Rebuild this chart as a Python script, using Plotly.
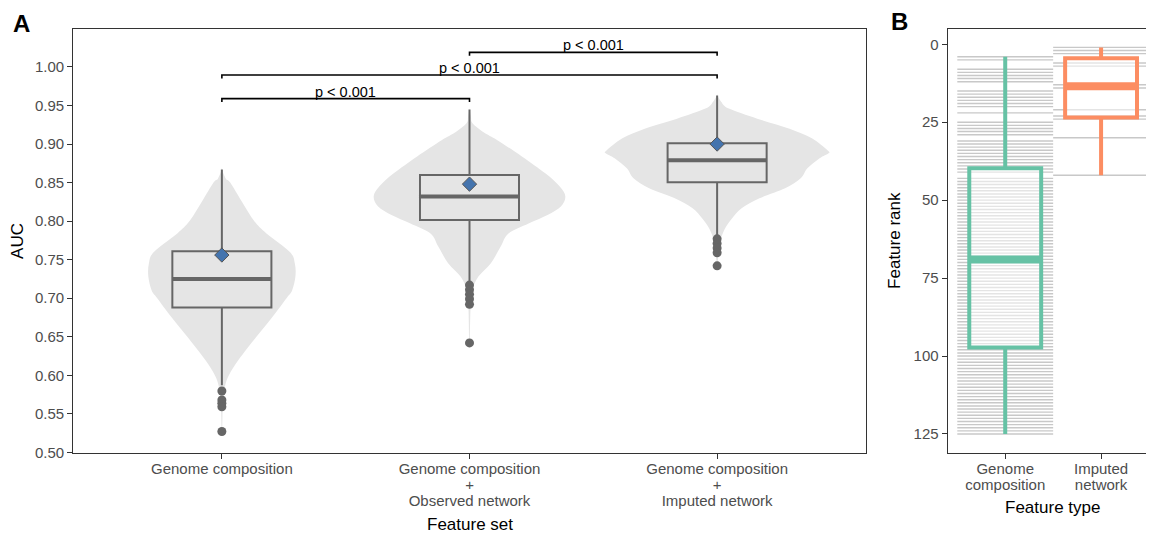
import numpy as np
import plotly.graph_objects as go

# The page has an 8px body margin; lay the figure out in reference pixels shifted by it.
OFF = 8
W, H = 1154 - OFF, 537
HR = 537 - OFF  # height actually available for drawing on the page
FONT = "Liberation Sans, Arial, Helvetica, sans-serif"
TICK_SIZE = 15


def px_x(p):
    return (p - OFF) / W


def px_y(p):
    return 1 - (p - OFF) / HR


def big(s, size=TICK_SIZE):
    return "<br>".join(f'<span style="font-size:{size}px">{part}</span>' for part in s.split("<br>"))


# ---------------- Panel A data ----------------
feature_sets = ["Genome composition",
                "Genome composition<br>+<br>Observed network",
                "Genome composition<br>+<br>Imputed network"]
set_pos = [1, 2, 3]
auc_ticks = [0.50, 0.55, 0.60, 0.65, 0.70, 0.75, 0.80, 0.85, 0.90, 0.95, 1.00]

box_q1 = [0.688, 0.8015, 0.8504]
box_median = [0.725, 0.832, 0.879]
box_q3 = [0.761, 0.860, 0.901]
box_lower = [0.587, 0.721, 0.782]
box_upper = [0.867, 0.945, 0.963]
auc_mean = [0.756, 0.848, 0.900]

outliers_gc = [0.5795, 0.568, 0.5636, 0.559, 0.527]
outliers_obs = [0.717, 0.711, 0.705, 0.699, 0.692, 0.642]
outliers_imp = [0.777, 0.771, 0.765, 0.759, 0.742]

# violin outlines (AUC grid, relative density; widest violin = 1)
violin_gc_auc = [0.527, 0.545, 0.565, 0.585, 0.600, 0.620, 0.650, 0.675, 0.700, 0.710,
                 0.728, 0.745, 0.760, 0.784, 0.800, 0.825, 0.850, 0.855, 0.867]
violin_gc_dens = [0.003, 0.005, 0.010, 0.027, 0.063, 0.150, 0.310, 0.450, 0.580, 0.630,
                  0.660, 0.655, 0.610, 0.400, 0.290, 0.180, 0.075, 0.036, 0.0]

violin_obs_auc = [0.642, 0.690, 0.711, 0.728, 0.745, 0.767, 0.784, 0.797, 0.808, 0.819,
                  0.832, 0.845, 0.862, 0.884, 0.905, 0.915, 0.927, 0.935, 0.946]
violin_obs_dens = [0.003, 0.010, 0.027, 0.080, 0.190, 0.280, 0.350, 0.530, 0.700, 0.820,
                   0.860, 0.810, 0.680, 0.470, 0.250, 0.130, 0.027, 0.013, 0.0]

violin_imp_auc = [0.743, 0.752, 0.765, 0.778, 0.7907, 0.8037, 0.8166, 0.8296, 0.8426, 0.8556,
                  0.8685, 0.8815, 0.888, 0.892, 0.9075, 0.920, 0.933, 0.946, 0.955, 0.9637]
violin_imp_dens = [0.003, 0.009, 0.018, 0.036, 0.072, 0.135, 0.220, 0.380, 0.610, 0.750,
                   0.810, 0.920, 1.000, 0.990, 0.850, 0.650, 0.360, 0.105, 0.036, 0.0]

bracket_from = [1, 1, 2]
bracket_to = [2, 3, 3]
bracket_y = [0.959, 0.9896, 1.019]
bracket_label = ["p < 0.001", "p < 0.001", "p < 0.001"]

# ---------------- Panel B data ----------------
feature_types = ["Genome<br>composition", "Imputed<br>network"]
type_pos = [1, 2]
rank_ticks = [0, 25, 50, 75, 100, 125]
ranks_genome = [4, 5, 8, 9, 10, 11, 12, 15, 16, 17, 18, 19, 20, 22, 25, 26, 27, 28, 29,
                31, 32, 33, 34, 35, 36, 37, 38, 39, 40, 41,
                43, 44, 45, 46, 47, 48, 49, 50, 51, 52, 53, 54, 55, 56, 57, 58, 59, 60,
                61, 62, 63, 64, 65, 66, 67, 68, 69, 70, 71, 72, 73, 74, 75, 76, 77, 78,
                79, 80, 81, 82, 83, 84, 85, 86, 87, 88, 89, 90, 91, 92, 93, 94, 95, 96,
                97, 98, 99, 100, 101, 102, 103, 104, 105, 106, 107, 108, 109, 110, 111,
                112, 113, 114, 115, 116, 117, 118, 119, 120, 121, 122, 123, 124, 125]
ranks_imputed = [1, 2, 3, 6, 7, 13, 14, 21, 23, 24, 30, 42]
type_colors = ["#66C2A5", "#FC8D62"]

# ---------------- style ----------------
VIOLIN_FILL = "#E5E5E5"
BOX_LINE = "#666666"
AXIS_LINE = "#333333"
TICK_TEXT = "#4D4D4D"
MEAN_FILL = "#4474AE"
VIOLIN_HALF = 0.45
BOX_W_A = 0.4
BOX_W_B = 0.75


def smooth_path(xs, ys):
    """Closed Catmull-Rom spline through points, as an SVG path in data units."""
    n = len(xs)
    pts = list(zip(xs, ys))
    d = f"M{pts[0][0]},{pts[0][1]}"
    for i in range(n - 1):
        p0 = pts[i - 1] if i > 0 else pts[i]
        p1 = pts[i]
        p2 = pts[i + 1]
        p3 = pts[i + 2] if i + 2 < n else pts[i + 1]
        c1 = (p1[0] + (p2[0] - p0[0]) / 6, p1[1] + (p2[1] - p0[1]) / 6)
        c2 = (p2[0] - (p3[0] - p1[0]) / 6, p2[1] - (p3[1] - p1[1]) / 6)
        d += f" C{c1[0]},{c1[1]} {c2[0]},{c2[1]} {p2[0]},{p2[1]}"
    return d + " Z"


fig = go.Figure()
shapes = []

# violins (drawn below the boxes)
for c, ys, ds in zip(set_pos, [violin_gc_auc, violin_obs_auc, violin_imp_auc],
                     [violin_gc_dens, violin_obs_dens, violin_imp_dens]):
    xr = [c + VIOLIN_HALF * d for d in ds]
    xl = [c - VIOLIN_HALF * d for d in ds[::-1]]
    path = smooth_path(xr + xl, list(ys) + list(ys[::-1]))
    shapes.append(dict(type="path", path=path, xref="x", yref="y", layer="below",
                       fillcolor=VIOLIN_FILL, line=dict(width=0)))

# boxes (precomputed stats)
fig.add_trace(go.Box(x=set_pos, q1=box_q1, median=box_median, q3=box_q3,
                     lowerfence=box_lower, upperfence=box_upper, width=BOX_W_A,
                     orientation="v",
                     fillcolor="rgba(0,0,0,0)", line=dict(color=BOX_LINE, width=2),
                     whiskerwidth=0, boxpoints=False, showlegend=False,
                     xaxis="x", yaxis="y"))
# thicker medians
for c, m in zip(set_pos, box_median):
    fig.add_trace(go.Scatter(x=[c - BOX_W_A / 2, c + BOX_W_A / 2], y=[m, m], mode="lines",
                             line=dict(color=BOX_LINE, width=4), showlegend=False,
                             hoverinfo="skip", xaxis="x", yaxis="y"))
# outliers
for c, pts in zip(set_pos, [outliers_gc, outliers_obs, outliers_imp]):
    fig.add_trace(go.Scatter(x=[c] * len(pts), y=pts, mode="markers",
                             marker=dict(color=BOX_LINE, size=9, line=dict(width=0)),
                             showlegend=False, hoverinfo="skip", xaxis="x", yaxis="y"))
# means
fig.add_trace(go.Scatter(x=set_pos, y=auc_mean, mode="markers",
                         marker=dict(symbol="diamond", size=11, color=MEAN_FILL,
                                     line=dict(color="#555555", width=1)),
                         showlegend=False, hoverinfo="skip", xaxis="x", yaxis="y"))
# significance brackets
TICKDROP = 0.0045
for a, b, yv, lab in zip(bracket_from, bracket_to, bracket_y, bracket_label):
    fig.add_trace(go.Scatter(x=[a, a, b, b], y=[yv - TICKDROP, yv, yv, yv - TICKDROP],
                             mode="lines", line=dict(color="black", width=1.6),
                             showlegend=False, hoverinfo="skip", xaxis="x", yaxis="y"))
    fig.add_annotation(x=(a + b) / 2, y=yv, xref="x", yref="y", text=lab, showarrow=False,
                       xanchor="center", yanchor="bottom", yshift=-3,
                       font=dict(family=FONT, size=14.5, color="black"))

# ---------------- Panel B ----------------
for c, ranks in zip(type_pos, [ranks_genome, ranks_imputed]):
    for r in ranks:
        shapes.append(dict(type="line", xref="x2", yref="y2", x0=c - 0.5, x1=c + 0.5,
                           y0=r, y1=r, layer="below",
                           line=dict(color="#C8C8C8", width=1.4)))

for c, ranks, col in zip(type_pos, [ranks_genome, ranks_imputed], type_colors):
    fig.add_trace(go.Box(x=[c] * len(ranks), y=ranks, width=BOX_W_B, orientation="v",
                         fillcolor="rgba(255,255,255,0.5)", line=dict(color=col, width=4),
                         whiskerwidth=0, boxpoints=False, showlegend=False,
                         xaxis="x2", yaxis="y2"))
    med = float(np.median(ranks))
    fig.add_trace(go.Scatter(x=[c - BOX_W_B / 2, c + BOX_W_B / 2], y=[med, med], mode="lines",
                             line=dict(color=col, width=8), showlegend=False,
                             hoverinfo="skip", xaxis="x2", yaxis="y2"))

# ---------------- layout ----------------
ydom = [px_y(452.7), px_y(29.0)]
axis_common = dict(showline=True, linecolor=AXIS_LINE, linewidth=1.2, ticks="outside",
                   ticklen=5, tickwidth=1.2, tickcolor=AXIS_LINE, showgrid=False,
                   zeroline=False, tickfont=dict(family=FONT, size=TICK_SIZE, color=TICK_TEXT))
# x tick labels: base font sets the (tighter) line spacing, spans keep the glyph size
xtick_common = dict(axis_common, tickfont=dict(family=FONT, size=12.5, color=TICK_TEXT))

fig.update_layout(
    width=W, height=H, margin=dict(l=0, r=0, t=0, b=0), autosize=False,
    paper_bgcolor="white", plot_bgcolor="white", hovermode=False,
    font=dict(family=FONT), shapes=shapes,
    xaxis=dict(domain=[px_x(73.3), px_x(865.7)], range=[0.4, 3.6], anchor="y", mirror=True,
               tickvals=set_pos, ticktext=[big(s) for s in feature_sets], **xtick_common),
    yaxis=dict(domain=ydom, range=[0.4995, 1.0493], anchor="x", mirror=True,
               tickvals=auc_ticks, ticktext=[f"{v:.2f}" for v in auc_ticks], **axis_common),
    xaxis2=dict(domain=[px_x(947.7), 1.0], range=[0.4, 2.552], anchor="y2", mirror=True,
                tickvals=type_pos, ticktext=[big(s) for s in feature_types], **xtick_common),
    yaxis2=dict(domain=ydom, range=[131.0, -4.9], anchor="x2",
                tickvals=rank_ticks, ticktext=[str(v) for v in rank_ticks], **axis_common),
)

title_font = dict(family=FONT, size=17, color="black")
titles = [("AUC", 18, 240.9, -90), ("Feature set", 469.5, 524, 0),
          ("Feature rank", 895, 240.9, -90), ("Feature type", 1052.5, 507, 0)]
for txt, xp, yp, ang in titles:
    fig.add_annotation(x=px_x(xp), y=px_y(yp), xref="paper", yref="paper", text=txt,
                       textangle=ang, showarrow=False, xanchor="center", yanchor="middle",
                       font=title_font)
panel_font = dict(family=FONT, size=24, color="black")
for txt, xp, yp in [("<b>A</b>", 21, 23.5), ("<b>B</b>", 899.5, 21)]:
    fig.add_annotation(x=px_x(xp), y=px_y(yp), xref="paper", yref="paper", text=txt,
                       xanchor="center", yanchor="middle", showarrow=False, font=panel_font)

fig.write_html("out.html")
